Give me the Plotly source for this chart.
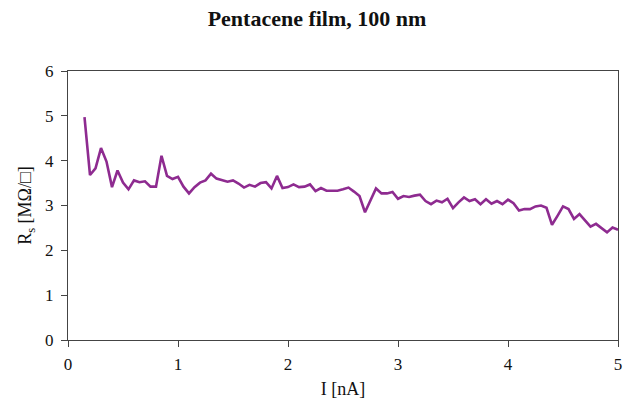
import plotly.graph_objects as go

current_nA = [0.15, 0.20, 0.25, 0.30, 0.35, 0.40, 0.45, 0.50, 0.55, 0.60,
              0.65, 0.70, 0.75, 0.80, 0.85, 0.90, 0.95, 1.00, 1.05, 1.10,
              1.15, 1.20, 1.25, 1.30, 1.35, 1.40, 1.45, 1.50, 1.55, 1.60,
              1.65, 1.70, 1.75, 1.80, 1.85, 1.90, 1.95, 2.00, 2.05, 2.10,
              2.15, 2.20, 2.25, 2.30, 2.35, 2.40, 2.45, 2.50, 2.55, 2.60,
              2.65, 2.70, 2.75, 2.80, 2.85, 2.90, 2.95, 3.00, 3.05, 3.10,
              3.15, 3.20, 3.25, 3.30, 3.35, 3.40, 3.45, 3.50, 3.55, 3.60,
              3.65, 3.70, 3.75, 3.80, 3.85, 3.90, 3.95, 4.00, 4.05, 4.10,
              4.15, 4.20, 4.25, 4.30, 4.35, 4.40, 4.45, 4.50, 4.55, 4.60,
              4.65, 4.70, 4.75, 4.80, 4.85, 4.90, 4.95, 5.00]

rs_MOhm = [4.97, 3.68, 3.83, 4.28, 3.98, 3.41, 3.78, 3.51, 3.36, 3.56,
           3.52, 3.54, 3.42, 3.42, 4.11, 3.66, 3.59, 3.64, 3.42, 3.27,
           3.41, 3.51, 3.56, 3.71, 3.60, 3.56, 3.53, 3.56, 3.49, 3.40,
           3.46, 3.42, 3.50, 3.52, 3.38, 3.66, 3.39, 3.41, 3.47, 3.41,
           3.42, 3.47, 3.32, 3.39, 3.33, 3.33, 3.33, 3.36, 3.40, 3.31,
           3.21, 2.85, 3.11, 3.38, 3.27, 3.27, 3.30, 3.15, 3.21, 3.19,
           3.22, 3.24, 3.10, 3.03, 3.11, 3.07, 3.15, 2.94, 3.07, 3.18,
           3.10, 3.14, 3.03, 3.14, 3.04, 3.10, 3.03, 3.13, 3.05, 2.89,
           2.92, 2.92, 2.98, 3.00, 2.95, 2.57, 2.77, 2.98, 2.92, 2.70,
           2.81, 2.66, 2.53, 2.59, 2.49, 2.40, 2.51, 2.46]

x_ticks = [0, 1, 2, 3, 4, 5]
y_ticks = [0, 1, 2, 3, 4, 5, 6]

font_family = "Liberation Serif"

fig = go.Figure()
fig.add_trace(go.Scatter(
    x=current_nA, y=rs_MOhm, mode="lines",
    line=dict(color="#8E2B90", width=2.6),
    showlegend=False,
))

axis_common = dict(
    showgrid=False, zeroline=False, automargin=False,
    showline=True, linecolor="#444444", linewidth=1, mirror=True,
    ticks="outside", ticklen=6, tickcolor="#444444",
    tickfont=dict(family=font_family, size=17, color="#111111"),
)

fig.update_layout(
    width=634, height=399,
    margin=dict(l=68, r=16, t=71, b=59),
    paper_bgcolor="white", plot_bgcolor="white",
    title=dict(
        text="<b>Pentacene film, 100 nm</b>",
        x=0.5, xanchor="center", y=0.955, yanchor="middle",
        font=dict(family=font_family, size=22, color="#111111"),
    ),
    xaxis=dict(
        range=[0, 5], tickvals=x_ticks, ticklabelstandoff=3,
        title=dict(text="I [nA]", font=dict(family=font_family, size=18, color="#111111"), standoff=9),
        **axis_common,
    ),
    yaxis=dict(
        range=[0, 6], tickvals=y_ticks, ticklabelstandoff=4,
        title=dict(text="R<sub>s</sub> [MΩ/□]", font=dict(family=font_family, size=18, color="#111111"), standoff=8),
        **axis_common,
    ),
)

fig.write_html("out.html")
